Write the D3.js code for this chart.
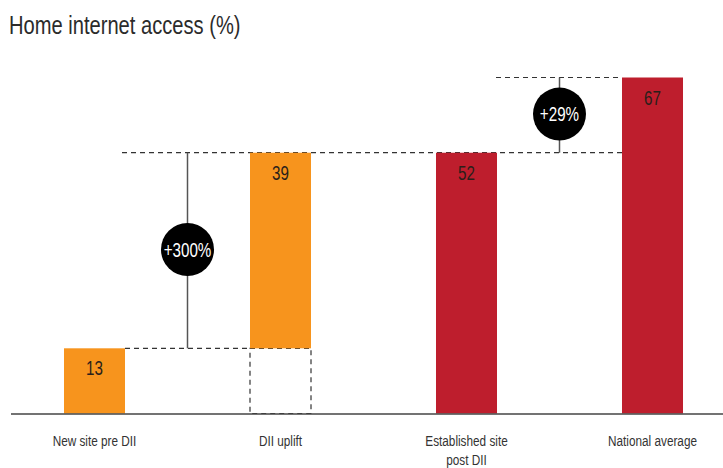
<!DOCTYPE html>
<html>
<head>
<meta charset="utf-8">
<script src="https://cdn.jsdelivr.net/npm/d3@7"></script>
<style>
  body { margin: 0; background: #fff; }
  text { font-family: "Liberation Sans", Arial, sans-serif; }
</style>
</head>
<body>
<div id="chart"></div>
<script>
const svgWidth = 723;
const svgHeight = 468;

// data
const categories = ["New site pre DII", "DII uplift", "Established site post DII", "National average"];
const catLines = [["New site pre DII"], ["DII uplift"], ["Established site", "post DII"], ["National average"]];
const startValues = [0, 13, 0, 0];
const endValues = [13, 52, 52, 67];
const valueLabels = ["13", "39", "52", "67"];
const barColors = ["#f7941d", "#f7941d", "#be1e2d", "#be1e2d"];
const changeLabels = ["+300%", "+29%"];

// the original font is a condensed one, squeeze text horizontally
const sx = 0.76;
const place = (px, py) => `translate(${px},${py}) scale(${sx},1)`;

const svg = d3.select("#chart")
  .append("svg")
  .attr("width", svgWidth)
  .attr("height", svgHeight);

const x = d3.scaleBand()
  .domain(categories)
  .range([1.5, 745.5])
  .paddingInner(0.672)
  .paddingOuter(0.336);

const y = d3.scaleLinear()
  .domain([0, 67])
  .range([413.5, 77.5]);

const bw = x.bandwidth();
const left = i => x(categories[i]);
const right = i => x(categories[i]) + bw;
const dash = "5,4";

// title
svg.append("text")
  .attr("transform", place(9, 34))
  .attr("fill", "#2b2b2b")
  .attr("font-size", 26.5)
  .text("Home internet access (%)");

// dashed guide lines (behind bars)
const guides = [
  [right(0) - 3, left(3), endValues[1]],
  [right(0), left(1), endValues[0]],
  [right(2) - 1, left(3), endValues[3]]
];
svg.selectAll(".guide")
  .data(guides)
  .enter()
  .append("line")
  .attr("x1", d => d[0])
  .attr("x2", d => d[1])
  .attr("y1", d => y(d[2]))
  .attr("y2", d => y(d[2]))
  .attr("stroke", "#333")
  .attr("stroke-width", 1.2)
  .attr("stroke-dasharray", dash);

// dashed box under the uplift bar
svg.append("rect")
  .attr("x", left(1))
  .attr("y", y(startValues[1]))
  .attr("width", bw)
  .attr("height", y(0) - y(startValues[1]))
  .attr("fill", "none")
  .attr("stroke", "#333")
  .attr("stroke-width", 1.2)
  .attr("stroke-dasharray", dash);

// bars
svg.selectAll(".bar")
  .data(categories)
  .enter()
  .append("rect")
  .attr("x", d => x(d))
  .attr("y", (d, i) => y(endValues[i]))
  .attr("width", bw)
  .attr("height", (d, i) => y(startValues[i]) - y(endValues[i]))
  .attr("fill", (d, i) => barColors[i]);

// value labels
svg.selectAll(".val")
  .data(categories)
  .enter()
  .append("text")
  .attr("transform", (d, i) => place(x(d) + bw / 2, y(endValues[i]) + 27))
  .attr("text-anchor", "middle")
  .attr("font-size", 20)
  .attr("fill", "#2a1f1a")
  .text((d, i) => valueLabels[i]);

// baseline
svg.append("line")
  .attr("x1", 11)
  .attr("x2", svgWidth)
  .attr("y1", y(0) + 0.5)
  .attr("y2", y(0) + 0.5)
  .attr("stroke", "#444")
  .attr("stroke-width", 1.5);

// category labels
const cat = svg.selectAll(".cat")
  .data(categories)
  .enter()
  .append("text")
  .attr("transform", d => place(x(d) + bw / 2, 446))
  .attr("text-anchor", "middle")
  .attr("font-size", 15.5)
  .attr("fill", "#333");
cat.each(function(d, i) {
  d3.select(this).selectAll("tspan")
    .data(catLines[i])
    .enter()
    .append("tspan")
    .attr("x", 0)
    .attr("dy", (t, j) => j === 0 ? 0 : 19)
    .text(t => t);
});

// change markers
const changes = [
  { cx: (right(0) + left(1)) / 2, from: endValues[0], to: endValues[1], label: changeLabels[0] },
  { cx: (right(2) + left(3)) / 2, from: endValues[2], to: endValues[3], label: changeLabels[1] }
];
const mk = svg.selectAll(".change")
  .data(changes)
  .enter()
  .append("g");
mk.append("line")
  .attr("x1", d => d.cx)
  .attr("x2", d => d.cx)
  .attr("y1", d => y(d.from))
  .attr("y2", d => y(d.to))
  .attr("stroke", "#555")
  .attr("stroke-width", 1.5);
mk.append("circle")
  .attr("cx", d => d.cx)
  .attr("cy", d => (y(d.from) + y(d.to)) / 2 - 1)
  .attr("r", 26.5)
  .attr("fill", "#000");
mk.append("text")
  .attr("transform", d => place(d.cx, (y(d.from) + y(d.to)) / 2 + 6))
  .attr("text-anchor", "middle")
  .attr("font-size", 20)
  .attr("fill", "#fff")
  .text(d => d.label);
</script>
</body>
</html>
